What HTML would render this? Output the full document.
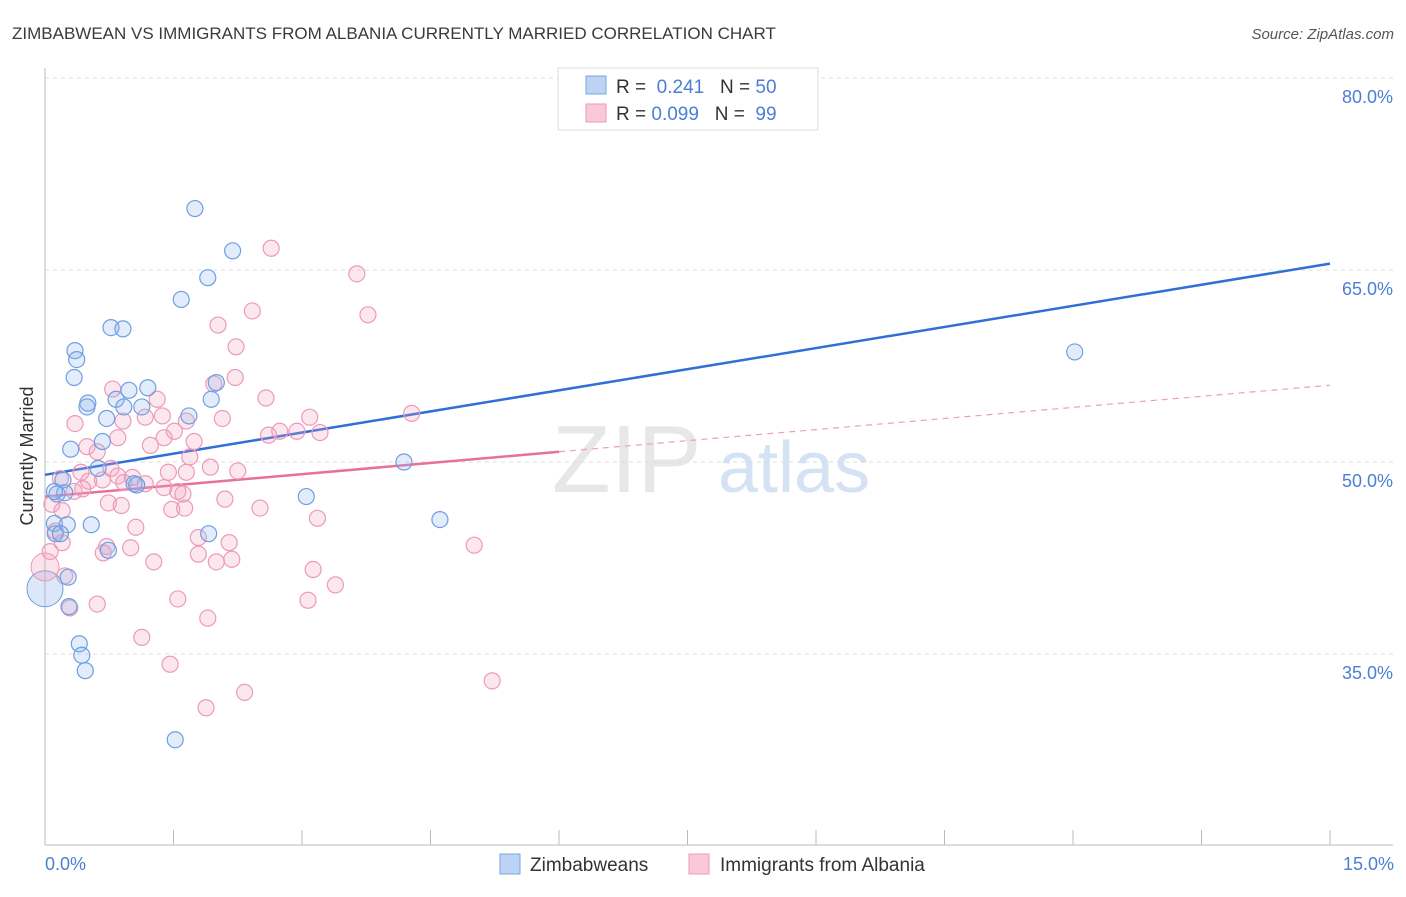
<!DOCTYPE html>
<html><head><meta charset="utf-8">
<style>
body{margin:0;background:#fff;font-family:"Liberation Sans",sans-serif;}
svg text{font-family:"Liberation Sans",sans-serif;}
</style></head>
<body>
<svg id="chart" width="1406" height="892" xmlns="http://www.w3.org/2000/svg">
<text x="12" y="39" font-size="17" fill="#3a3a3a">ZIMBABWEAN VS IMMIGRANTS FROM ALBANIA CURRENTLY MARRIED CORRELATION CHART</text>
<text x="1394" y="39" font-size="15" fill="#555" font-style="italic" text-anchor="end">Source: ZipAtlas.com</text>
<g>
<text x="552" y="492" font-size="96" fill="#d8d8d8" font-family="Liberation Serif" opacity="0.6">ZIP</text>
<text x="718" y="492" font-size="72" fill="#b8d0ee" opacity="0.6">atlas</text>
</g>
<g id="grid"></g>
<g id="axes"></g>
<g id="trend"></g>
<g id="points"></g>
<text transform="translate(33,456) rotate(-90)" font-size="18" fill="#333" text-anchor="middle">Currently Married</text>
<text x="45" y="870" font-size="18" fill="#4a7fd4">0.0%</text>
<text x="1394" y="870" font-size="18" fill="#4a7fd4" text-anchor="end">15.0%</text>
<g>
<rect x="558" y="68" width="260" height="62" fill="#fff" stroke="#ddd"/>
<rect x="586" y="76" width="20" height="18" fill="#bcd3f3" stroke="#7aa6e6"/>
<rect x="586" y="104" width="20" height="18" fill="#f9c9da" stroke="#ee9ab8"/>
<text x="616" y="93" font-size="19" fill="#333">R = <tspan fill="#4a7fd4">&#160;0.241</tspan>&#160;&#160;&#160;N = <tspan fill="#4a7fd4">50</tspan></text>
<text x="616" y="120" font-size="19" fill="#333">R = <tspan fill="#4a7fd4">0.099</tspan>&#160;&#160;&#160;N = <tspan fill="#4a7fd4">&#160;99</tspan></text>
</g>
<g>
<rect x="500" y="854" width="20" height="20" fill="#bcd3f3" stroke="#7aa6e6"/>
<text x="530" y="871" font-size="19" fill="#333">Zimbabweans</text>
<rect x="689" y="854" width="20" height="20" fill="#f9c9da" stroke="#ee9ab8"/>
<text x="720" y="871" font-size="19" fill="#333">Immigrants from Albania</text>
</g>
</svg>
<script>
const yTicks=[80,65,50,35];
const yTickLabels=["80.0%","65.0%","50.0%","35.0%"];
const xTicks=[0,1.5,3,4.5,6,7.5,9,10.5,12,13.5,15];
const blueX=[1.75,2.19,1.90,1.59,0.77,0.91,0.35,0.37,0.34,1.20,0.98,0.50,0.83,0.49,0.92,1.13,1.68,0.72,1.94,2.00,0.67,0.30,0.62,0.21,0.14,0.23,0.11,0.26,0.54,0.12,0.18,0.74,1.91,1.04,1.07,3.05,4.19,4.61,12.02,0.27,0.28,0.40,0.43,0.47,1.52,0.11];
const blueY=[69.8,66.5,64.4,62.7,60.5,60.4,58.7,58.0,56.6,55.8,55.6,54.6,54.9,54.3,54.3,54.3,53.6,53.4,54.9,56.2,51.6,51.0,49.5,48.6,47.5,47.6,45.2,45.1,45.1,44.4,44.4,43.1,44.4,48.3,48.2,47.3,50.0,45.5,58.6,41.0,38.7,35.8,34.9,33.7,28.3,47.7];
const pinkX=[2.64,3.64,2.42,3.77,2.02,2.23,2.22,1.97,0.79,2.58,1.31,4.28,3.09,1.17,0.91,1.37,2.07,1.65,0.35,2.61,2.74,2.94,3.21,1.51,1.39,0.85,1.74,1.23,0.49,0.61,1.69,1.93,2.25,1.44,1.65,0.42,0.77,0.85,1.02,0.67,0.92,1.17,0.51,0.18,0.44,0.34,1.39,1.55,1.61,2.10,0.74,0.89,1.48,1.63,2.51,3.18,1.06,0.20,0.08,0.12,0.20,0.72,1.00,1.79,2.15,0.68,1.79,2.00,2.18,1.27,0.06,5.01,3.13,3.39,0.23,0.61,0.29,1.55,1.90,3.07,1.13,1.46,2.33,1.88,5.22];
const pinkY=[66.7,64.7,61.8,61.5,60.7,59.0,56.6,56.1,55.7,55.0,54.9,53.8,53.5,53.5,53.2,53.6,53.4,53.2,53.0,52.1,52.4,52.4,52.3,52.4,51.9,51.9,51.6,51.3,51.2,50.8,50.4,49.6,49.3,49.2,49.2,49.2,49.5,48.9,48.8,48.6,48.4,48.3,48.5,48.7,47.9,47.7,48.0,47.7,47.5,47.1,46.8,46.6,46.3,46.4,46.4,45.6,44.9,46.2,46.7,44.6,43.7,43.4,43.3,44.1,43.7,42.9,42.8,42.2,42.4,42.2,43.0,43.5,41.6,40.4,41.1,38.9,38.6,39.3,37.8,39.2,36.3,34.2,32.0,30.8,32.9];
const blueTrend=[[0,49.0],[15,65.5]];
const pinkSolid=[[0,47.3],[6,50.8]];
const pinkDash=[[6,50.8],[15,56.0]];
const NS="http://www.w3.org/2000/svg";
function xs(v){return 45+v*(1285/15);}
function ys(v){return 462-(v-50)*12.8;}
function mk(tag,attrs,parent){const e=document.createElementNS(NS,tag);for(const k in attrs)e.setAttribute(k,attrs[k]);parent.appendChild(e);return e;}
const grid=document.getElementById('grid');
yTicks.forEach((t,i)=>{
 const l=mk('line',{x1:45,x2:1393,y1:ys(t),y2:ys(t),stroke:'#dcdcdc','stroke-dasharray':'4,4'},grid);
 
 
 const tx=mk('text',{x:1393,y:ys(t)+25,'font-size':18,fill:'#4a7fd4','text-anchor':'end'},grid);
 tx.textContent=yTickLabels[i];
 
 
});
const axes=document.getElementById('axes');
const ya=mk('line',{x1:45,x2:45,y1:68,y2:845,stroke:'#bbb'},axes);


const xa=mk('line',{x1:45,x2:1393,y1:845,y2:845,stroke:'#bbb'},axes);


xTicks.forEach(t=>{
 const l=mk('line',{x1:xs(t),x2:xs(t),y1:830,y2:845,stroke:'#bbb'},axes);
 
 
});
const tr=document.getElementById('trend');
function seg(p,color,dash,name,w){
 const l=mk('line',{x1:xs(p[0][0]),y1:ys(p[0][1]),x2:xs(p[1][0]),y2:ys(p[1][1]),stroke:color,'stroke-width':w},tr);
 if(dash)l.setAttribute('stroke-dasharray',dash);
 
 
}
const pts=document.getElementById('points');
function dots(X,Y,fill,stroke,name){
 X.forEach((x,i)=>{
  const c=mk('circle',{cx:xs(x),cy:ys(Y[i]),r:8,fill:fill,stroke:stroke,'stroke-width':1.2},pts);
  
  
 });
}
dots(pinkX,pinkY,'rgba(244,160,190,0.25)','#ec9ab9','albania-point');
dots(blueX,blueY,'rgba(140,180,235,0.25)','#6f9fe0','zimbabwean-point');
const bigB=mk('circle',{cx:xs(0),cy:ys(40.1),r:18,fill:'rgba(140,180,235,0.3)',stroke:'#6f9fe0'},pts);


const bigP=mk('circle',{cx:xs(0),cy:ys(41.8),r:14,fill:'rgba(244,160,190,0.3)',stroke:'#ec9ab9'},pts);


seg(blueTrend,'#2f6fd6',null,'zimbabwean-trend-line',2.5);
seg(pinkSolid,'#e8709a',null,'albania-trend-line',2.5);
seg(pinkDash,'#eaa0ba','6,5','albania-trend-extension',1.2);
</script>
</body></html>
